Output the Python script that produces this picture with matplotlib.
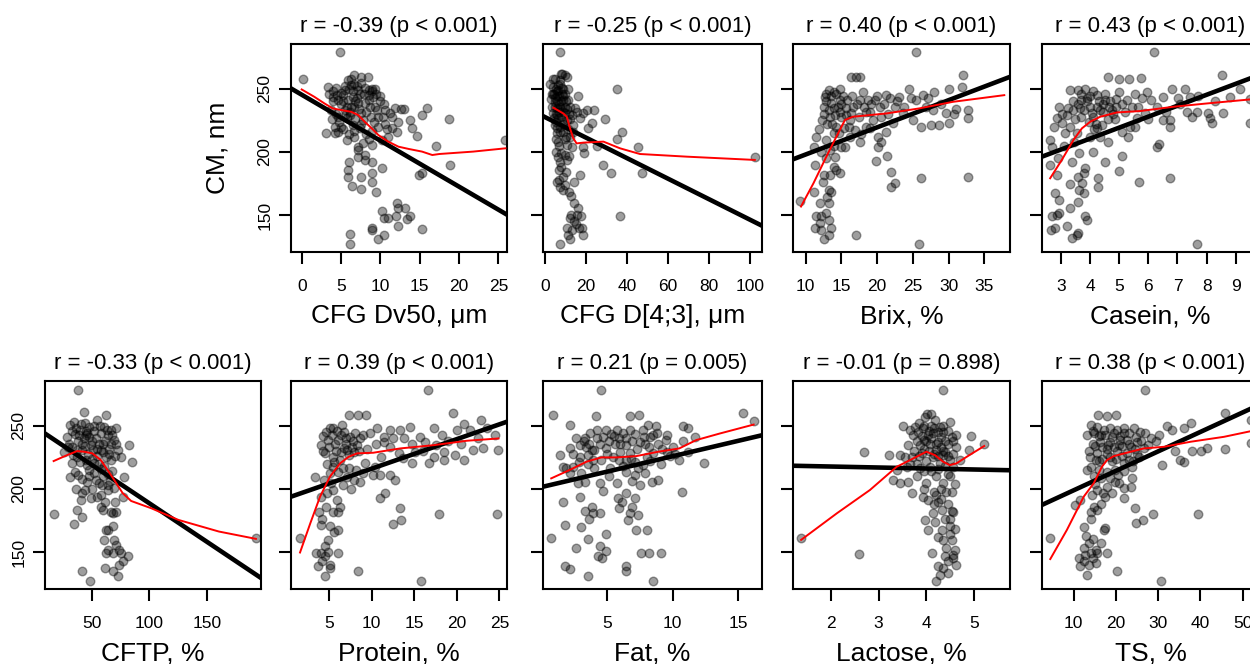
import matplotlib
matplotlib.use("Agg")
import matplotlib.pyplot as plt
import numpy as np

plt.rcParams['font.family'] = ['Liberation Sans', 'DejaVu Sans']

# ---- scatter points (x, CM nm) ----
dv50_pts = [(0.2, 258), (4.9, 279), (6.7, 261), (7.6, 259), (8.4, 259.5), (6.3, 258), (3.5, 246), (4.4, 251),
            (5.5, 249), (6.3, 253), (7.2, 249), (8.9, 248), (9.3, 249.5), (10.0, 244), (10.6, 233), (11.9, 234.5),
            (13.0, 234), (13.8, 225), (14.0, 219), (14.7, 213), (15.3, 229), (15.9, 234.5), (18.7, 226), (11.5, 219),
            (12.3, 224), (10.6, 222.5), (3.7, 233), (3.1, 215), (4.2, 220), (4.6, 228), (5.0, 238), (5.9, 241),
            (6.7, 236), (7.6, 230.5), (8.5, 241), (9.3, 236), (9.75, 228), (10.4, 238), (8.9, 217), (9.75, 220),
            (5.7, 209.5), (6.7, 212), (7.2, 204), (7.8, 207), (8.9, 205.5), (11.0, 212), (10.2, 209.5), (12.1, 216),
            (7.1, 201.5), (8.0, 197.6), (7.2, 196), (8.0, 193.7), (8.9, 192.4), (6.0, 192.4), (5.9, 186), (5.9, 180.5),
            (6.4, 173), (7.6, 170.5), (7.5, 180.5), (8.9, 183), (9.0, 176.6), (10.2, 187), (9.5, 168), (14.9, 182),
            (15.3, 183.6), (17.1, 205), (18.9, 190), (25.9, 209.5), (12.1, 159.5), (12.2, 155.5), (13.1, 155.5),
            (10.2, 153), (10.4, 147.6), (11.0, 147.6), (12.0, 149.5), (13.8, 149.5), (13.4, 147), (12.3, 141.6),
            (8.9, 140), (9.0, 138.4), (9.75, 131), (10.5, 134.5), (15.3, 139), (6.2, 135), (6.2, 127),
            (3.3, 251.6), (3.95, 243.7), (4.6, 241), (5.2, 245), (5.5, 233), (6.1, 229.2), (6.5, 243.7), (7.0, 242.4),
            (7.4, 246.3), (8.0, 238.4), (8.7, 235.8), (9.1, 243.7), (5.0, 220), (4.2, 214.7), (4.6, 216), (6.5, 221.3),
            (7.4, 218.7), (7.8, 225.3), (5.7, 226.6), (7.2, 238.4), (6.3, 235.8), (8.5, 249), (6.7, 254.2), (5.9, 256.8),
            (4.0, 248), (4.5, 245), (5.0, 247), (5.5, 252), (6.0, 250), (6.5, 248), (7.0, 252), (7.5, 255), (8.0, 251),
            (8.5, 245), (9.0, 250), (9.5, 246), (5.2, 240), (5.8, 236), (6.2, 232), (6.8, 240), (7.3, 234), (8.2, 232),
            (8.8, 228), (9.6, 233), (4.3, 230), (4.8, 224), (5.3, 218), (6.0, 214), (6.8, 226), (7.5, 222), (8.2, 214),
            (9.2, 224), (10.3, 228), (11.2, 231), (10.8, 218), (4.0, 240), (3.8, 226), (5.6, 230), (7.9, 246),
            (9.9, 240), (6.6, 217), (8.6, 210), (11.5, 228), (12.6, 234)]

d43_pts = [(7.3, 279), (35.3, 250), (36.6, 149), (102.4, 196), (7.3, 127), (9.8, 261), (10.6, 259.5), (4.1, 258),
           (3.3, 246), (5.7, 244), (8.9, 241), (12.2, 236), (16.3, 244), (20.3, 233), (23.9, 233), (29.3, 226),
           (22.8, 222.6), (21.1, 218.7), (17.1, 226.6), (13.8, 221), (7.3, 220), (5.7, 214.7), (12.2, 212), (10.6, 205.5),
           (13.0, 204), (18.7, 204), (19.0, 199), (25.2, 204.7), (28.1, 189.7), (32.0, 183), (35.0, 210), (37.7, 216),
           (45.5, 203.7), (47.2, 183), (17.1, 182), (14.1, 176.6), (7.3, 192), (10.6, 193.7), (6.9, 186), (8.9, 180.5),
           (7.3, 172.6), (11.9, 168), (8.9, 169.5), (14.1, 159.5), (16.3, 155.5), (17.4, 149), (15.4, 150),
           (12.2, 147.6), (18.0, 139.7), (10.6, 139.7), (13.0, 138.4), (11.4, 134.5), (18.4, 134.5), (12.2, 131),
           (4.1, 251.6), (6.5, 249), (8.1, 246), (4.9, 239.7), (7.3, 235.8), (4.1, 230.5), (9.8, 230.5), (6.5, 226.6),
           (10.6, 225), (4.9, 221), (8.9, 224), (5.7, 234.5), (11.4, 241), (7.3, 254), (2.4, 254), (13.0, 229),
           (14.6, 234.5), (18.7, 230.5), (6.0, 248), (9.0, 250), (5.0, 243), (7.0, 238), (9.5, 236), (3.5, 236),
           (6.0, 229), (8.0, 228), (5.5, 224), (9.0, 216), (6.5, 208), (8.0, 199), (5.5, 200), (11.5, 196.5),
           (10.0, 184), (6.0, 176), (12.5, 165), (15.0, 143), (9.5, 210), (11.0, 218), (3.0, 242), (7.8, 262),
           (4.5, 246), (5.5, 250), (6.5, 253), (7.5, 257), (8.5, 251), (9.5, 246), (5.0, 236), (6.0, 240), (7.0, 244),
           (8.0, 240), (9.0, 244), (10.0, 240), (4.5, 227), (5.5, 230), (6.8, 232), (7.8, 234), (8.8, 232), (10.5, 234),
           (11.5, 230), (6.0, 219), (7.5, 216), (9.0, 222), (10.0, 212), (12.0, 226), (3.8, 246), (4.8, 258),
           (8.2, 262), (11.0, 250), (5.2, 210), (7.0, 205), (9.5, 198), (6.5, 196), (8.0, 188), (13.5, 216),
           (15.5, 232), (7.0, 178), (9.5, 174), (12.5, 150), (14.0, 145), (16.5, 140)]

brix_pts = [(25.4, 279), (25.9, 127), (17.0, 134.5), (9.2, 161.3), (32.0, 261), (32.7, 180.5), (26.2, 179.7),
            (22.0, 172.6), (22.5, 175.8), (22.0, 184.5), (19.8, 193), (21.4, 197), (16.4, 259), (17.1, 259), (17.6, 259),
            (13.2, 249), (13.9, 247.6), (14.8, 250), (12.5, 235.8), (13.6, 238.4), (14.1, 229), (14.8, 241), (15.7, 234.5),
            (16.6, 235.8), (18.0, 247.6), (17.6, 241), (18.7, 241), (19.7, 241), (20.4, 235.8), (21.3, 245), (21.8, 242.4),
            (23.1, 243.7), (24.5, 250), (24.7, 242.4), (26.4, 245), (28.0, 247.6), (30.1, 250), (31.9, 251.6),
            (27.1, 242.4), (27.8, 233), (29.7, 230.5), (30.8, 229.7), (32.7, 233), (32.7, 226.6), (30.0, 222.6),
            (28.7, 221.3), (27.6, 221.3), (26.2, 220), (25.0, 225), (23.6, 230.5), (22.2, 222.6), (21.3, 216), (20.1, 212),
            (20.6, 208), (20.1, 204), (17.6, 208), (16.2, 212), (15.0, 204), (13.4, 201.6), (12.9, 209.5), (11.1, 204),
            (11.5, 212), (11.3, 190), (12.9, 195), (14.1, 196.3), (14.3, 185.8), (13.4, 181.8), (12.5, 181.8), (14.8, 183),
            (11.1, 168.7), (13.2, 170), (13.6, 168), (12.0, 159.5), (13.2, 159.5), (11.5, 149), (12.2, 149), (12.9, 151.6),
            (13.2, 146.3), (11.3, 139.7), (12.2, 138.4), (13.6, 139.7), (12.5, 131), (13.2, 134.5), (12.7, 243.7),
            (13.4, 227.9), (14.3, 220), (15.3, 218.7), (16.2, 225), (16.9, 217.4), (18.5, 220), (19.4, 225), (13.9, 214.7),
            (15.5, 204), (12.8, 246), (14.5, 236), (15.2, 244), (19.0, 232), (22.5, 236), (13.0, 222), (15.0, 228),
            (12.8, 240), (13.5, 244), (14.2, 246), (15.0, 238), (15.8, 241), (16.5, 244), (17.2, 238), (18.2, 236),
            (19.2, 238), (20.0, 244), (21.0, 238), (12.6, 230), (13.2, 233), (14.0, 235), (14.8, 232), (15.6, 229),
            (16.4, 231), (17.4, 228), (18.4, 232), (20.5, 228), (22.8, 240), (23.8, 236), (25.5, 241), (26.8, 236),
            (29.0, 238), (31.0, 234), (12.3, 225), (13.7, 222), (14.6, 215), (11.8, 218), (12.2, 200), (13.9, 205),
            (12.4, 176), (13.0, 164), (12.0, 144), (14.0, 188), (16.0, 220), (17.8, 214), (19.0, 219), (21.5, 230)]

casein_pts = [(6.18, 279), (7.66, 127), (8.54, 261), (6.75, 179.7), (5.69, 176), (5.0, 185), (5.09, 197), (4.52, 192.4),
              (4.26, 179.7), (4.26, 172.6), (6.29, 204.2), (6.35, 206.3), (4.63, 259.5), (5.01, 258), (5.32, 258),
              (5.74, 258.7), (3.32, 249), (3.57, 249), (3.83, 250), (4.23, 245), (4.52, 241), (4.75, 233), (4.35, 233),
              (4.01, 235.8), (3.66, 234.5), (3.43, 233), (3.21, 229), (2.95, 235.8), (2.86, 226.6), (3.32, 220),
              (3.55, 214.7), (3.15, 214.7), (2.63, 209.5), (2.69, 204), (2.61, 190), (2.86, 182), (3.38, 192.4),
              (3.61, 199), (3.78, 183), (3.72, 175.3), (3.61, 170), (3.78, 167.4), (3.83, 187), (4.01, 212), (4.35, 212),
              (4.23, 218.7), (4.63, 208), (5.09, 216), (5.38, 220), (5.61, 226.6), (5.89, 230.5), (6.09, 241), (5.27, 241),
              (5.55, 246), (5.95, 247.6), (5.66, 235.8), (4.98, 247.6), (6.52, 243.7), (6.81, 250), (7.26, 250),
              (7.03, 242.4), (7.43, 243.7), (7.32, 231.8), (7.66, 231.8), (8.06, 230.5), (8.12, 226.6), (8.17, 222.6),
              (8.57, 230.5), (8.8, 243.7), (9.15, 250), (9.49, 241.6), (9.49, 222.6), (6.75, 225), (6.75, 220), (5.55, 220),
              (6.52, 225), (2.81, 167.4), (2.92, 162), (2.69, 149), (2.86, 150.3), (2.92, 151.6), (3.32, 155.5),
              (3.21, 141.6), (2.67, 138.4), (2.81, 139.7), (3.38, 131.8), (3.55, 134.5), (3.57, 135.8), (3.83, 149),
              (3.89, 146.3), (3.58, 160), (3.9, 240), (4.1, 228), (4.45, 238), (4.0, 244), (3.7, 241), (4.6, 226),
              (4.9, 236), (4.2, 222), (3.5, 226), (3.05, 223), (4.8, 230),
              (3.7, 246), (3.9, 243), (4.1, 248), (4.3, 240), (4.5, 246), (4.7, 240), (4.9, 242), (5.1, 238), (3.6, 238),
              (3.8, 233), (4.05, 231), (4.25, 236), (4.45, 232), (4.65, 236), (4.85, 226), (5.2, 232), (5.45, 236),
              (3.4, 240), (3.25, 235), (3.05, 230), (3.95, 224), (4.15, 218), (4.4, 221), (3.45, 208), (3.7, 228),
              (5.8, 243), (6.3, 236), (6.6, 232), (7.1, 238), (7.7, 244), (8.3, 240), (2.75, 220), (3.1, 205), (3.6, 180),
              (3.3, 175), (2.9, 195), (4.1, 200), (5.3, 212), (6.0, 226), (7.5, 228)]

cftp_pts = [(38.3, 278.7), (17.4, 180.3), (34.5, 172.4), (41.8, 177.6), (41.2, 134.7), (48.5, 126.8), (192.8, 161),
            (84.9, 221.6), (78.4, 209.7), (82.8, 234.7), (77.0, 194), (75.5, 225), (62.3, 258.9), (43.3, 261),
            (31.5, 250.5), (40.3, 251.8), (47.7, 249.2), (55.0, 254.5), (60.9, 249.2), (66.7, 246.6), (71.1, 247.9),
            (28.6, 241.3), (35.9, 243.9), (44.7, 242.6), (53.5, 240), (63.8, 242.6), (69.6, 238.7), (72.6, 230.8),
            (25.7, 229.5), (33.0, 233.4), (41.8, 230.8), (49.1, 234.7), (57.9, 230.8), (62.3, 225.5), (66.7, 222.9),
            (33.0, 220.3), (37.4, 225.5), (44.7, 222.9), (52.1, 220.3), (35.9, 213.7), (31.5, 209.7), (38.3, 211),
            (45.6, 205.8), (56.5, 204.5), (63.8, 203.2), (63.8, 199.2), (69.6, 200.5), (47.7, 215), (52.1, 212.4),
            (41.8, 196.6), (49.1, 192.6), (55.0, 194), (40.3, 191.3), (57.9, 186), (59.4, 183.4), (66.7, 182),
            (68.1, 180.8), (71.1, 182.1), (37.4, 183.4), (62.3, 167.6), (63.8, 167.6), (68.8, 170.3), (69.4, 159.7),
            (60.9, 159.7), (63.8, 151.8), (71.1, 155.8), (74.0, 151.8), (81.4, 146.6), (75.5, 149.2), (68.1, 149.2),
            (62.3, 149.2), (77.0, 142.6), (74.0, 140), (68.1, 134.7), (61.4, 137.4), (72.6, 130.8), (45.0, 246),
            (50.0, 238), (58.0, 244), (38.0, 238), (42.0, 236), (55.0, 226), (60.0, 236), (47.0, 228), (30.0, 236),
            (52.0, 246), (65.0, 232), (58.0, 216), (44.0, 252), (36.0, 248), (50.0, 200), (60.0, 210), (68.0, 214),
            (35, 253), (40, 247), (46, 244), (52, 250), (57, 250), (63, 247), (68, 243), (33, 246), (39, 243), (43, 240),
            (48, 241), (56, 236), (62, 238), (67, 236), (71, 236), (29, 233), (37, 231), (44, 234), (51, 231), (55, 232),
            (60, 229), (65, 228), (70, 226), (34, 227), (40, 221), (46, 219), (50, 224), (56, 220), (61, 218), (64, 212),
            (42, 208), (48, 210), (54, 207), (59, 203), (66, 206), (36, 200), (44, 199), (58, 195), (62, 190), (70, 190)]

protein_pts = [(16.6, 278.7), (15.8, 126.8), (8.45, 134.7), (1.59, 161), (3.35, 209.7), (19.6, 260.5), (17.9, 180.3),
               (24.7, 180.3), (12.5, 172.4), (13.5, 175.5), (13.35, 184.7), (11.0, 193.1), (11.6, 196.6), (12.8, 207),
               (12.2, 211), (7.4, 258.9), (8.45, 258.9), (9.35, 258.9), (5.1, 247.9), (5.5, 247.9), (6.5, 250.5),
               (4.1, 234.7), (4.9, 238.7), (6.1, 238.7), (7.5, 241.3), (8.3, 234.7), (9.0, 242.6), (6.7, 232.1),
               (4.5, 228.2), (5.5, 225.5), (6.3, 222.9), (7.3, 226.8), (7.9, 229.5), (5.5, 217.6), (5.1, 212.4),
               (6.1, 213.7), (7.1, 209.7), (7.9, 207.1), (8.6, 205.8), (4.0, 193.9), (4.7, 196.6), (5.5, 199.2),
               (5.9, 191.3), (6.3, 186), (5.5, 182), (4.6, 186), (6.1, 182), (9.8, 244), (10.6, 247.9), (11.4, 241.3),
               (12.2, 246.6), (13.35, 246.6), (14.5, 249.2), (15.7, 241.3), (16.3, 237.4), (17.3, 247.9), (18.3, 242.6),
               (18.5, 229.5), (20.0, 246.6), (20.8, 251.8), (21.6, 246.6), (22.8, 254.5), (21.9, 230.8), (23.1, 232.1),
               (24.5, 242.6), (24.9, 230.8), (19.8, 226.8), (20.8, 222.9), (18.5, 222.9), (17.3, 225.5), (16.7, 220.3),
               (14.7, 220.3), (13.7, 224.2), (13.2, 228.2), (12.2, 233.4), (11.1, 225.5), (10.4, 217.6), (11.0, 211),
               (10.2, 211), (9.2, 220.3), (15.1, 229.5), (4.1, 171.6), (5.1, 170.3), (6.1, 167.6), (4.9, 159.7),
               (4.5, 154.5), (4.1, 149.2), (3.5, 149.2), (4.5, 146.6), (6.1, 149.2), (5.1, 140), (3.7, 138.7),
               (4.5, 130.8), (5.1, 137.4), (7.0, 236), (8.0, 244), (5.8, 230), (6.8, 245), (9.5, 232), (4.3, 242),
               (4.6, 245), (5.3, 243), (5.9, 246), (6.4, 243), (7.0, 240), (7.8, 238), (8.6, 240), (4.3, 230), (5.0, 233),
               (5.7, 236), (6.4, 229), (7.1, 231), (7.7, 233), (8.5, 230), (4.8, 220), (5.6, 221), (6.6, 217), (7.4, 217),
               (8.2, 215), (9.0, 213), (4.4, 207), (5.2, 205), (6.6, 203), (7.6, 200), (10.5, 236), (11.5, 237),
               (12.5, 240), (13.8, 240), (14.8, 236), (16.0, 230), (17.6, 235), (19.0, 238), (20.5, 236), (22.5, 240),
               (23.6, 248), (3.8, 182), (4.2, 176), (5.6, 166), (4.9, 150), (4.2, 143)]

fat_pts = [(4.54, 278.7), (0.84, 258.9), (4.1, 257.9), (2.17, 250.3), (6.7, 257.9), (7.4, 258.9), (15.4, 260.5),
           (16.2, 253.9), (10.8, 249.7), (11.2, 247.9), (12.4, 220.8), (10.7, 197.9), (0.7, 161), (1.73, 171.3),
           (2.6, 153.4), (3.5, 160.7), (1.73, 139), (2.1, 136.6), (3.5, 131.2), (8.5, 126.8), (6.4, 138.7), (6.45, 134.7),
           (7.6, 149.2), (8.2, 149.2), (9.1, 149.2), (8.0, 167.6), (7.2, 167.6), (6.6, 175.5), (6.7, 180.8), (7.35, 179.5),
           (4.4, 154.7), (4.9, 150.5), (4.6, 145.3), (4.3, 146.6), (1.6, 190), (2.9, 194), (4.67, 198.4), (5.7, 205),
           (5.8, 192.6), (5.9, 184.7), (6.45, 196.6), (7.1, 192.6), (3.8, 186), (3.3, 182.6), (4.4, 180.8), (3.9, 180.8),
           (8.4, 205.8), (8.9, 207), (7.9, 212.4), (7.1, 211), (6.45, 213.7), (1.35, 226.8), (1.86, 216.3), (2.4, 217.6),
           (1.6, 217.6), (2.1, 232.1), (2.6, 240), (2.9, 234.7), (3.4, 233.4), (3.5, 226.8), (3.8, 230.8), (4.2, 240),
           (4.2, 246.6), (4.9, 246.6), (5.3, 243.9), (5.7, 246.6), (5.9, 240), (5.56, 236), (4.9, 232.1), (4.54, 222.9),
           (5.2, 216.3), (3.9, 222.9), (3.0, 212.4), (2.75, 204.5), (3.3, 205.8), (2.1, 212.4), (6.7, 246.6),
           (7.1, 243.9), (7.7, 246.6), (8.1, 250.5), (8.75, 249.7), (8.5, 242.6), (8.9, 236), (9.5, 238.7), (8.2, 233.4),
           (8.5, 228.2), (6.7, 228.2), (6.45, 222.9), (7.1, 221.6), (7.35, 216.3), (5.9, 222.9), (10.0, 233.4),
           (10.5, 222.9), (11.2, 229.5), (11.7, 241.3), (9.6, 229.5), (8.0, 225.5), (6.45, 234.7), (7.5, 237.4),
           (3.2, 238), (3.6, 236), (4.0, 231), (6.2, 244), (7.8, 241),
           (2.4, 228), (2.9, 225), (3.3, 240), (3.7, 244), (4.4, 236), (4.7, 241), (5.1, 238), (5.5, 242), (6.0, 236),
           (6.4, 240), (6.9, 238), (7.3, 232), (7.9, 236), (8.3, 241), (8.8, 244), (9.2, 232), (9.8, 226), (5.0, 228),
           (5.4, 225), (6.0, 229), (6.8, 224), (7.7, 219), (8.3, 222), (9.1, 220), (10.2, 228), (10.8, 238), (4.0, 217),
           (3.5, 220), (2.8, 221), (6.2, 218), (6.9, 206), (7.5, 203), (5.1, 210), (4.4, 205), (6.1, 190), (6.9, 186),
           (3.6, 176), (4.9, 164), (3.0, 170), (9.6, 243)]

lactose_pts = [(1.38, 161), (2.6, 148.7), (2.7, 229.5), (3.22, 226.8), (3.52, 249.7), (4.35, 278.7), (4.2, 126.8),
               (4.93, 241.8), (5.2, 236), (4.9, 230.8), (4.7, 222.9), (4.56, 217.6), (4.02, 259.7), (4.09, 259.7),
               (3.97, 257.1), (4.18, 254.5), (4.49, 253.2), (4.28, 249.2), (3.83, 245.3), (3.93, 247.9), (3.73, 242.6),
               (4.04, 242.6), (4.14, 244), (4.35, 245.3), (4.53, 241.3), (4.63, 242.6), (3.62, 234.7), (3.87, 234.7),
               (4.07, 236), (4.25, 237.4), (4.46, 236), (4.63, 233.4), (3.45, 226.8), (3.69, 225.5), (3.9, 228.2),
               (4.14, 225.5), (4.35, 226.8), (4.28, 220.3), (4.49, 222.9), (4.07, 217.6), (3.87, 216.3), (3.59, 217.6),
               (3.38, 215), (3.31, 207.1), (3.45, 204.5), (3.62, 205.8), (3.69, 196.6), (3.93, 194), (4.04, 191.3),
               (4.21, 195.3), (4.35, 204.5), (4.42, 197.9), (4.53, 197.9), (4.25, 190), (4.14, 180.8), (4.32, 183.4),
               (4.53, 182.9), (4.56, 182.1), (3.97, 175.5), (4.04, 167.6), (4.18, 174.2), (4.32, 167.6), (4.49, 170.3),
               (4.35, 159.7), (4.53, 159.7), (4.42, 153.1), (4.6, 151.8), (4.55, 147.9), (4.11, 149.2), (4.39, 146.6),
               (4.56, 145.3), (4.25, 138.7), (4.35, 137.4), (4.46, 133.4), (4.28, 132.1), (4.63, 140), (3.66, 246.6),
               (3.76, 249.2), (3.55, 225.5), (4.1, 250), (4.3, 241), (3.95, 239), (4.2, 231), (4.4, 229), (4.0, 222),
               (4.45, 212), (4.2, 210), (3.8, 210), (4.3, 200), (3.95, 200), (4.15, 188), (4.4, 176), (4.5, 164),
               (3.85, 252), (3.95, 250), (4.05, 246), (4.15, 248), (4.25, 245), (4.35, 250), (4.45, 246), (4.55, 238),
               (3.8, 238), (3.9, 242), (4.0, 238), (4.1, 240), (4.2, 236), (4.3, 233), (4.4, 238), (3.75, 230),
               (3.85, 226), (3.95, 232), (4.05, 230), (4.15, 228), (4.25, 226), (4.35, 230), (4.45, 226), (4.55, 228),
               (3.65, 220), (3.8, 220), (3.95, 214), (4.1, 214), (4.25, 216), (4.4, 218), (4.5, 210), (4.6, 204),
               (4.0, 205), (4.15, 198), (4.3, 192), (4.45, 188), (4.5, 176), (4.6, 168), (4.25, 162), (4.45, 143)]

ts_pts = [(27.0, 278.7), (30.7, 126.8), (4.46, 161), (20.3, 134.7), (28.8, 180), (39.5, 180), (24.8, 173.4),
          (26.4, 175.5), (24.6, 184.7), (21.9, 192.6), (45.8, 260.5), (45.9, 231.3), (41.7, 232.6), (40.1, 230),
          (38.1, 230), (36.1, 221.6), (35.3, 222.9), (34.1, 230), (31.0, 218.8), (33.4, 246.6), (32.2, 249.7),
          (36.1, 247.9), (37.7, 252.4), (30.2, 242.6), (28.4, 240), (52.0, 254.5), (52.0, 236.6), (15.7, 258.9),
          (17.8, 257.9), (20.1, 258.9), (14.0, 250.5), (15.5, 249.2), (13.2, 242.6), (14.8, 244), (17.1, 246.6),
          (18.7, 247.9), (20.3, 246.6), (21.9, 247.9), (24.3, 247.9), (25.8, 245.3), (27.0, 244), (16.3, 237.4),
          (18.7, 237.4), (20.7, 234.7), (22.7, 238.7), (25.0, 237.4), (26.6, 232.1), (13.6, 230), (15.5, 228.8),
          (17.9, 227.5), (20.3, 230), (22.7, 228.8), (25.0, 227.5), (14.0, 217.6), (13.2, 215), (15.9, 215),
          (17.9, 213.7), (19.9, 215), (21.9, 220.3), (23.9, 217.6), (23.9, 208.4), (23.5, 201.8), (21.9, 200.5),
          (17.9, 201.8), (17.5, 193.9), (15.5, 199.2), (14.4, 195.3), (20.7, 204.5), (19.9, 205.8), (11.6, 191.3),
          (10.4, 187.3), (14.8, 186), (15.5, 183.4), (14.0, 182), (12.4, 169.7), (17.1, 167.6), (17.5, 169),
          (12.4, 153.1), (13.6, 157), (14.0, 149.2), (15.2, 151.8), (15.5, 149.2), (17.9, 149.2), (11.6, 138.7),
          (12.4, 142.6), (13.6, 140), (15.2, 141.3), (13.2, 132.1), (11.2, 145.3), (19.0, 241), (16.5, 243),
          (21.0, 239), (23.5, 233), (18.0, 232), (16.0, 222), (19.0, 222), (14.5, 236), (22.0, 244), (24.0, 222),
          (14.5, 246), (16.0, 242), (17.5, 243), (19.5, 244), (21.0, 242), (23.0, 244), (24.8, 241), (26.0, 238),
          (15.0, 234), (16.8, 233), (18.2, 235), (19.6, 233), (21.5, 234), (23.0, 236), (24.5, 232), (27.5, 235),
          (13.8, 225), (15.2, 223), (16.8, 224), (18.5, 225), (20.0, 224), (21.5, 226), (23.0, 223), (25.5, 225),
          (14.8, 210), (16.5, 209), (18.6, 209), (20.5, 211), (22.0, 214), (15.0, 204), (17.0, 197), (19.0, 197),
          (16.5, 188), (14.2, 176), (13.0, 163), (14.6, 160), (12.8, 148), (14.5, 145), (16.5, 157), (29.5, 238)]

# ---- least-squares lines: (x reference, y at that x, slope) ----
dv50_fit = (-1.36, 250.3, -3.64)
d43_fit = (-1.0, 228.4, -0.812)
brix_fit = (8.23, 194.2, 2.15)
casein_fit = (2.35, 196.3, 8.67)
cftp_fit = (9.4, 243.9, -0.609)
protein_fit = (0.53, 193.9, 2.34)
fat_fit = (0.07, 201.8, 2.43)
lactose_fit = (1.21, 218.4, -0.785)
ts_fit = (2.5, 187.4, 1.54)

# ---- lowess curves ----
dv50_lo = [(0, 249.5), (1.6, 243.7), (2.9, 238.4), (3.95, 234.5), (5.0, 233.2), (6.3, 231.8), (7.2, 229.2), (8.0, 224),
           (8.9, 218.7), (9.75, 213.4), (11.0, 208.2), (12.3, 204.2), (13.6, 202.4), (15.3, 200.3), (16.6, 197.6),
           (17.5, 198.4), (21.8, 200.3), (25.9, 202.9)]
d43_lo = [(4.1, 235), (8.9, 230.5), (10.6, 227.9), (12.2, 218.7), (13.8, 210.8), (15.4, 206.8), (18.7, 207.4),
          (28.5, 208.2), (36.6, 202.9), (46.3, 198.4), (69.1, 196.3), (102.4, 193.7)]
brix_lo = [(9.35, 156.8), (11.1, 175.3), (12.9, 196.3), (14.3, 212.1), (15.5, 225.3), (16.6, 227.9), (21.3, 230.5),
           (25.9, 234.5), (30.6, 239.7), (37.8, 245)]
casein_lo = [(2.63, 179.2), (3.03, 193.7), (3.43, 209.5), (3.72, 218.7), (4.01, 224), (4.35, 227.9), (4.92, 231.3),
             (5.72, 232.4), (6.86, 235.8), (8.0, 238.4), (9.49, 241.6)]
cftp_lo = [(16.9, 222.1), (28.6, 226.8), (37.4, 230), (43.3, 229.5), (50.6, 228.2), (57.9, 222.9), (63.8, 215),
           (69.6, 207.1), (77.0, 196.6), (84.3, 190.5), (101.9, 184.7), (125.4, 175.5), (160.6, 166.3), (192.8, 160.5)]
protein_lo = [(1.59, 149.7), (2.8, 172.9), (3.94, 193.9), (5.1, 209.7), (6.3, 220.3), (7.3, 225.5), (8.3, 228.2),
              (10.2, 228.7), (13.35, 232.1), (17.3, 234.7), (21.2, 238.2), (24.9, 240)]
fat_lo = [(0.7, 208.4), (2.1, 215), (3.4, 221.6), (4.54, 225), (5.7, 225), (7.2, 226), (8.9, 229.5), (10.5, 232.1),
          (11.8, 238.7), (13.6, 243.9), (16.2, 251)]
lactose_lo = [(1.38, 159.7), (2.13, 180.8), (2.82, 199.2), (3.38, 217.6), (3.66, 222.9), (4.0, 229.5), (4.18, 226.8),
              (4.35, 221.6), (4.49, 218.9), (4.63, 220.3), (4.9, 226.8), (5.21, 234)]
ts_lo = [(4.46, 144.5), (8.4, 167.6), (12.4, 194), (14.75, 204.5), (16.7, 217.6), (17.9, 222.9), (19.5, 226),
         (23.5, 229.5), (26.6, 232.1), (31.4, 233.4), (37.7, 237.4), (45.6, 241.3), (52.0, 245.8)]

titles = ["r = -0.39 (p < 0.001)", "r = -0.25 (p < 0.001)", "r = 0.40 (p < 0.001)", "r = 0.43 (p < 0.001)",
          "r = -0.33 (p < 0.001)", "r = 0.39 (p < 0.001)", "r = 0.21 (p = 0.005)", "r = -0.01 (p = 0.898)",
          "r = 0.38 (p < 0.001)"]
xlabels = ["CFG Dv50, μm", "CFG D[4;3], μm", "Brix, %", "Casein, %",
           "CFTP, %", "Protein, %", "Fat, %", "Lactose, %", "TS, %"]
xticks = [[0, 5, 10, 15, 20, 25], [0, 20, 40, 60, 80, 100], [10, 15, 20, 25, 30, 35], [3, 4, 5, 6, 7, 8, 9],
          [50, 100, 150], [5, 10, 15, 20, 25], [5, 10, 15], [2, 3, 4, 5], [10, 20, 30, 40, 50]]
xlims = [(-1.36, 26.1), (-1.0, 105.9), (8.23, 38.6), (2.35, 9.8),
         (9.4, 197.2), (0.53, 25.9), (0.07, 16.84), (1.21, 5.75), (2.5, 53.9)]
yticks = [150, 200, 250]
ylim = (120.8, 285.5)

pts = [dv50_pts, d43_pts, brix_pts, casein_pts, cftp_pts, protein_pts, fat_pts, lactose_pts, ts_pts]
fits = [dv50_fit, d43_fit, brix_fit, casein_fit, cftp_fit, protein_fit, fat_fit, lactose_fit, ts_fit]
lows = [dv50_lo, d43_lo, brix_lo, casein_lo, cftp_lo, protein_lo, fat_lo, lactose_lo, ts_lo]

W, H = 1250, 664
fig = plt.figure(figsize=(W / 100, H / 100), dpi=100)

col_left = [45, 291, 543, 793, 1042]
col_w = [216, 216, 219, 217, 217]
row_top = [44, 381]
ph = 208
# (row, column) of each panel
slots = [(0, 1), (0, 2), (0, 3), (0, 4), (1, 0), (1, 1), (1, 2), (1, 3), (1, 4)]

for i, (r, c) in enumerate(slots):
    ax = fig.add_axes([col_left[c] / W, 1 - (row_top[r] + ph) / H, col_w[c] / W, ph / H])
    xy = np.array(pts[i])
    ax.scatter(xy[:, 0], xy[:, 1], s=38, facecolor=(0, 0, 0, 0.38), edgecolor=(0, 0, 0, 0.38),
               linewidths=1.0, zorder=2)
    x0, y0, m = fits[i]
    ax.axline((x0, y0), slope=m, color="black", lw=3.3, zorder=3)
    lo = np.array(lows[i])
    ax.plot(lo[:, 0], lo[:, 1], color="red", lw=1.4, zorder=4)

    ax.set_xlim(*xlims[i])
    ax.set_ylim(*ylim)
    ax.set_xticks(xticks[i])
    ax.set_xticklabels([str(t) for t in xticks[i]])
    ax.set_yticks(yticks)
    first = (r == 0 and c == 1) or (r == 1 and c == 0)
    if first:
        ax.set_yticklabels([str(t) for t in yticks], rotation=90, va="center")
    else:
        ax.set_yticklabels([])
    ax.tick_params(axis="both", direction="out", length=8.5, width=1.5, labelsize=12.5)
    ax.tick_params(axis="x", pad=11)
    ax.tick_params(axis="y", pad=5)
    for sp in ax.spines.values():
        sp.set_linewidth(1.5)
    ax.text(0.5, 1.083, titles[i], transform=ax.transAxes, ha="center", va="center", fontsize=16)
    ax.text(0.5, -0.31, xlabels[i], transform=ax.transAxes, ha="center", va="center", fontsize=19)

fig.text(218 / W, 1 - 148 / H, "CM, nm", rotation=90, ha="center", va="center", fontsize=19)

fig.savefig("out.png", dpi=100)
